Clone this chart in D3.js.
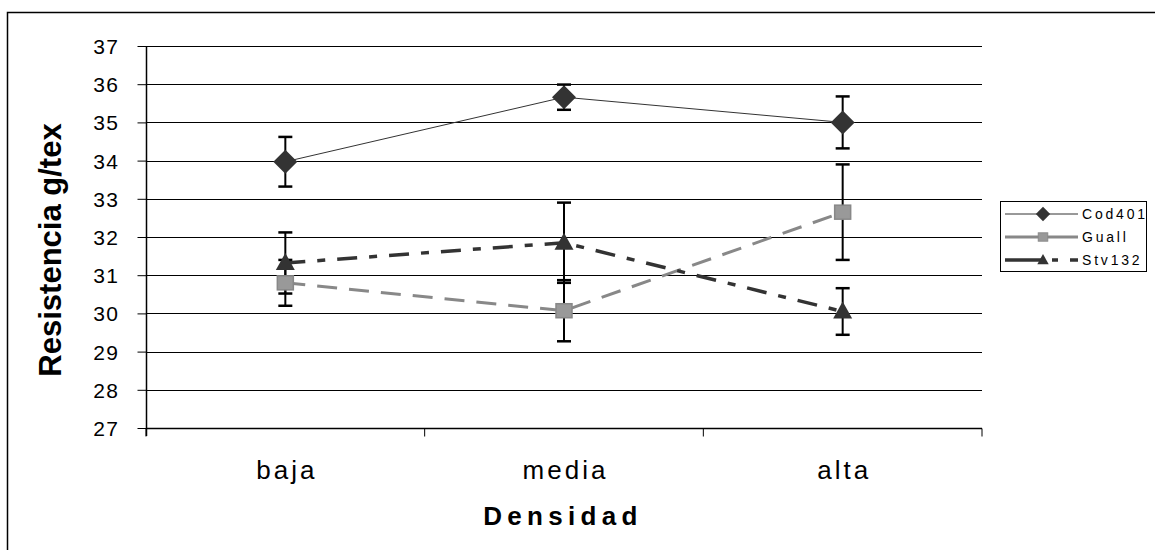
<!DOCTYPE html>
<html><head><meta charset="utf-8">
<script src="https://cdn.jsdelivr.net/npm/d3@7"></script>
<style>body{margin:0;background:#fff}svg{display:block;font-family:"Liberation Sans",Arial,sans-serif}</style>
</head><body><svg id="c" width="1155" height="550"></svg>
<script>
const categories = ["baja", "media", "alta"];
const yTicks = [27, 28, 29, 30, 31, 32, 33, 34, 35, 36, 37];
const seriesNames = ["Cod401", "Guall", "Stv132"];
const cod401 = [33.97, 35.66, 35.0];
const cod401Err = [0.65, 0.33, 0.68];
const guall = [30.8, 30.07, 32.65];
const guallErr = [0.6, 0.8, 1.25];
const stv132 = [31.32, 31.85, 30.05];
const stv132Err = [0.8, 1.05, 0.61];

const svg = d3.select("#c");
const L = 146, R = 982, T = 46, B = 428;
const x = d3.scaleBand().domain(categories).range([L, R]);
const y = d3.scaleLinear().domain([27, 37]).range([B, T]);

// outer frame (top & left visible)
svg.append("path").attr("d", "M7.5,560 V12.5 H1160").attr("fill", "none").attr("stroke", "#000").attr("stroke-width", 1.5);

// gridlines
svg.append("g").selectAll("line").data(yTicks).join("line")
  .attr("x1", L).attr("x2", R).attr("y1", d => Math.round(y(d)) + 0.5).attr("y2", d => Math.round(y(d)) + 0.5)
  .attr("stroke", "#000").attr("stroke-width", 1);

// y axis
const ya = svg.append("g").attr("transform", `translate(${L + 0.5},0)`)
  .call(d3.axisLeft(y).tickValues(yTicks).tickSize(9).tickPadding(18).tickFormat(d3.format("d")));
ya.select(".domain").attr("stroke", "#000").attr("stroke-width", 1.5).attr("d", `M0,${B + 8}V${T}`);
ya.selectAll(".tick line").attr("stroke", "#000");
ya.selectAll(".tick text").attr("font-size", 21).attr("letter-spacing", 1.5).attr("dy", "0.36em")
  .attr("fill", "#000").attr("font-family", '"Liberation Sans",Arial,sans-serif');

// x axis
const xa = svg.append("g").attr("transform", `translate(0,${B + 0.5})`);
xa.append("line").attr("x1", L).attr("x2", R).attr("stroke", "#000").attr("stroke-width", 1.5);
const bounds = [L, ...categories.map(c => x(c) + x.bandwidth())];
xa.selectAll("line.t").data(bounds).join("line").attr("class", "t")
  .attr("x1", d => d).attr("x2", d => d).attr("y1", 0).attr("y2", 8).attr("stroke", "#000");
xa.selectAll("text").data(categories).join("text")
  .attr("x", d => x(d) + x.bandwidth() / 2 + 1.5).attr("y", 50).attr("text-anchor", "middle")
  .attr("font-size", 26).attr("letter-spacing", 3).text(d => d);

// axis titles
svg.append("text").attr("x", 563).attr("y", 525).attr("text-anchor", "middle")
  .attr("font-size", 26).attr("font-weight", "bold").attr("letter-spacing", 5.3).text("Densidad");
svg.append("text").attr("transform", "translate(61,250) rotate(-90)").attr("text-anchor", "middle")
  .attr("font-size", 31).attr("font-weight", "bold").text("Resistencia g/tex");

const cx = c => x(c) + x.bandwidth() / 2;
const series = [
  {name: seriesNames[0], v: cod401, e: cod401Err, stroke: "#333", w: 1, dash: null, sym: "diamond"},
  {name: seriesNames[1], v: guall, e: guallErr, stroke: "#888", w: 3, dash: "20,12", sym: "square"},
  {name: seriesNames[2], v: stv132, e: stv132Err, stroke: "#333", w: 3.5, dash: "20,12,8,12", sym: "triangle"}
];
const line = d3.line().x((d, i) => cx(categories[i])).y(d => y(d));

function marker(g, s, px, py) {
  if (s.sym === "diamond") {
    g.append("path").attr("d", `M${px},${py - 12}L${px + 12},${py}L${px},${py + 12}L${px - 12},${py}Z`).attr("fill", "#333");
  } else if (s.sym === "square") {
    g.append("rect").attr("x", px - 8).attr("y", py - 7).attr("width", 16).attr("height", 14)
      .attr("fill", "#999").attr("stroke", "#888").attr("stroke-width", 1.5);
  } else {
    g.append("path").attr("d", `M${px},${py - 10}L${px + 9.5},${py + 7}L${px - 9.5},${py + 7}Z`).attr("fill", "#333");
  }
}

// error bars
series.forEach(s => {
  const g = svg.append("g");
  s.v.forEach((v, i) => {
    const px = cx(categories[i]);
    const y1 = y(v - s.e[i]), y2 = y(v + s.e[i]);
    g.append("line").attr("x1", px).attr("x2", px).attr("y1", y1).attr("y2", y2).attr("stroke", "#000").attr("stroke-width", 2);
    [y1, y2].forEach(yy => g.append("line").attr("x1", px - 7).attr("x2", px + 7).attr("y1", yy).attr("y2", yy).attr("stroke", "#000").attr("stroke-width", 2.5));
  });
});
// lines & markers
series.forEach(s => {
  svg.append("path").datum(s.v).attr("d", line).attr("fill", "none").attr("stroke", s.stroke)
    .attr("stroke-width", s.w).attr("stroke-dasharray", s.dash);
});
series.forEach(s => {
  const g = svg.append("g");
  s.v.forEach((v, i) => marker(g, s, cx(categories[i]), y(v)));
});

// legend
const lg = svg.append("g");
lg.append("rect").attr("x", 1000.5).attr("y", 201.5).attr("width", 146).attr("height", 70).attr("fill", "#fff").attr("stroke", "#000");
series.forEach((s, i) => {
  const yy = [214, 237, 260][i];
  lg.append("line").attr("x1", 1005).attr("x2", 1078).attr("y1", yy).attr("y2", yy).attr("stroke", s.stroke)
    .attr("stroke-width", s.w).attr("stroke-dasharray", s.dash ? (i === 1 ? "34,8,40" : "37,10,6,12") : null);
  const sc = 0.6;
  const g = lg.append("g").attr("transform", `translate(1043,${yy}) scale(${sc})`);
  marker(g, s, 0, 0);
  lg.append("text").attr("x", 1082).attr("y", yy + 5).attr("font-size", 14).attr("letter-spacing", 2.8).text(s.name);
});
</script></body></html>
